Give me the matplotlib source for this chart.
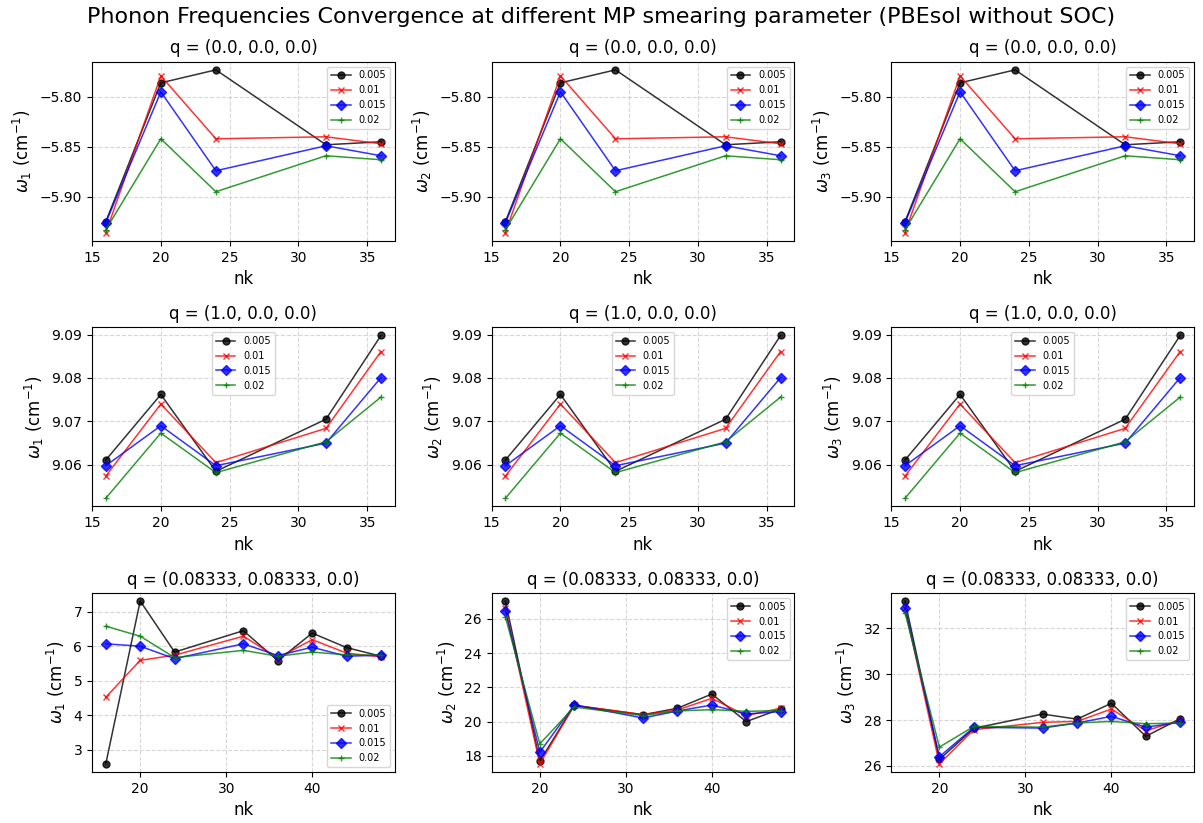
import matplotlib.pyplot as plt

smearings = ["0.005", "0.01", "0.015", "0.02"]
colors = ["black", "red", "blue", "green"]
markers = ["o", "x", "D", "+"]

nk_short = [16, 20, 24, 32, 36]
nk_long = [16, 20, 24, 32, 36, 40, 44, 48]

# q = Gamma, three degenerate modes share the same values
gamma_w = {
    "0.005": [-5.925, -5.786, -5.773, -5.848, -5.845],
    "0.01": [-5.936, -5.779, -5.842, -5.840, -5.847],
    "0.015": [-5.926, -5.795, -5.874, -5.849, -5.859],
    "0.02": [-5.933, -5.842, -5.895, -5.859, -5.863],
}

# q = X, also degenerate
x_w = {
    "0.005": [9.0611, 9.0762, 9.0585, 9.0705, 9.0898],
    "0.01": [9.0574, 9.0740, 9.0605, 9.0684, 9.0861],
    "0.015": [9.0598, 9.0690, 9.0598, 9.0650, 9.0801],
    "0.02": [9.0523, 9.0673, 9.0582, 9.0653, 9.0756],
}

# q = (0.08333, 0.08333, 0.0)
q3_w1 = {
    "0.005": [2.59, 7.31, 5.83, 6.45, 5.58, 6.38, 5.96, 5.71],
    "0.01": [4.52, 5.59, 5.74, 6.29, 5.66, 6.19, 5.80, 5.69],
    "0.015": [6.07, 6.00, 5.64, 6.07, 5.73, 5.97, 5.71, 5.74],
    "0.02": [6.58, 6.29, 5.67, 5.88, 5.71, 5.83, 5.75, 5.74],
}
q3_w2 = {
    "0.005": [27.05, 17.69, 20.95, 20.40, 20.78, 21.61, 20.00, 20.74],
    "0.01": [26.64, 17.53, 20.95, 20.41, 20.68, 21.36, 20.35, 20.78],
    "0.015": [26.45, 18.21, 20.97, 20.21, 20.62, 20.97, 20.45, 20.58],
    "0.02": [26.12, 18.70, 20.85, 20.35, 20.62, 20.70, 20.60, 20.64],
}
q3_w3 = {
    "0.005": [33.19, 26.28, 27.64, 28.26, 28.04, 28.73, 27.29, 28.06],
    "0.01": [32.87, 26.09, 27.58, 27.90, 27.94, 28.48, 27.53, 28.00],
    "0.015": [32.89, 26.40, 27.68, 27.65, 27.87, 28.16, 27.69, 27.90],
    "0.02": [32.68, 26.82, 27.72, 27.69, 27.87, 27.94, 27.84, 27.87],
}

panels = [
    ["q = (0.0, 0.0, 0.0)", nk_short, [gamma_w, gamma_w, gamma_w], ["upper right"] * 3],
    ["q = (1.0, 0.0, 0.0)", nk_short, [x_w, x_w, x_w], ["upper center"] * 3],
    ["q = (0.08333, 0.08333, 0.0)", nk_long, [q3_w1, q3_w2, q3_w3],
     ["lower right", "upper right", "upper right"]],
]

fig, axes = plt.subplots(3, 3, figsize=(12.03, 8.23), dpi=100)

for i, (title, nk, modes, locs) in enumerate(panels):
    for j in range(3):
        ax = axes[i, j]
        for s, c, m in zip(smearings, colors, markers):
            ax.plot(nk, modes[j][s], color=c, marker=m, markersize=5,
                    alpha=0.8, linewidth=1.1, label=s)
        ax.set_title(title, fontsize=12)
        ax.set_xlabel("nk", fontsize=12)
        ax.set_ylabel(rf"$\omega_{j + 1}$ (cm$^{{-1}}$)", fontsize=12)
        ax.grid(True, linestyle="--", alpha=0.5)
        ax.legend(loc=locs[j], fontsize=7)

fig.suptitle("Phonon Frequencies Convergence at different MP smearing parameter (PBEsol without SOC)",
             fontsize=16, y=0.992)
fig.subplots_adjust(left=0.0765, right=0.9925, top=0.925, bottom=0.062,
                    wspace=0.32, hspace=0.483)
plt.savefig("out.png")
